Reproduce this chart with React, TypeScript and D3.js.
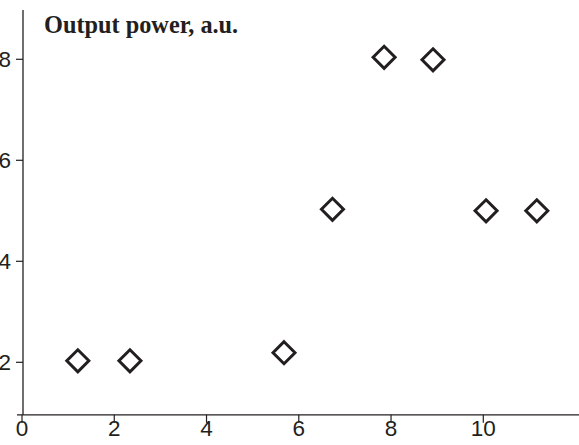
import { useEffect, useRef } from "react";
import * as d3 from "d3";

// values, in axis units
const xValues = [1.21, 2.34, 5.68, 6.73, 7.85, 8.91, 10.06, 11.16];
const yValues = [2.03, 2.03, 2.19, 5.03, 8.04, 7.99, 5.0, 5.0];
const xTicks = [0, 2, 4, 6, 8, 10];
const yTicks = [2, 4, 6, 8];
const title = "Output power, a.u.";

const width = 579;
const height = 445;
const ink = "#231f20";

export default function App() {
  const ref = useRef<SVGSVGElement>(null);

  useEffect(() => {
    const svg = d3.select(ref.current);
    svg.selectAll("*").remove();

    const x = d3.scaleLinear().domain([0, 10]).range([22, 483.3]);
    const y = d3.scaleLinear().domain([0, 8]).range([463.3, 59.3]);
    const axisY = y(0.96);
    const axisX = 23;

    // x axis
    svg
      .append("line")
      .attr("x1", 17)
      .attr("x2", width)
      .attr("y1", axisY)
      .attr("y2", axisY)
      .attr("stroke", ink)
      .attr("stroke-width", 1.3);

    const xt = svg.append("g");
    xt.selectAll("line")
      .data(xTicks)
      .join("line")
      .attr("x1", (d) => x(d))
      .attr("x2", (d) => x(d))
      .attr("y1", axisY)
      .attr("y2", axisY + 8)
      .attr("stroke", ink)
      .attr("stroke-width", 1.2);
    xt.selectAll("text")
      .data(xTicks)
      .join("text")
      .attr("x", (d) => x(d))
      .attr("y", axisY + 21.5)
      .attr("text-anchor", "middle")
      .attr("font-family", "Liberation Sans, Arial, sans-serif")
      .attr("font-size", 22.5)
      .attr("fill", ink)
      .text((d) => d);

    // y axis
    svg
      .append("line")
      .attr("x1", axisX)
      .attr("x2", axisX)
      .attr("y1", 10)
      .attr("y2", axisY)
      .attr("stroke", ink)
      .attr("stroke-width", 1.3);

    const yt = svg.append("g");
    yt.selectAll("line")
      .data(yTicks)
      .join("line")
      .attr("x1", axisX - 7)
      .attr("x2", axisX)
      .attr("y1", (d) => y(d))
      .attr("y2", (d) => y(d))
      .attr("stroke", ink)
      .attr("stroke-width", 1.2);
    yt.selectAll("text")
      .data(yTicks)
      .join("text")
      .attr("x", 11)
      .attr("y", (d) => y(d))
      .attr("dy", "0.36em")
      .attr("text-anchor", "end")
      .attr("font-family", "Liberation Sans, Arial, sans-serif")
      .attr("font-size", 22.5)
      .attr("fill", ink)
      .text((d) => d);

    // title
    svg
      .append("text")
      .attr("x", 44)
      .attr("y", 33)
      .attr("font-family", "Liberation Serif, Times New Roman, serif")
      .attr("font-weight", "bold")
      .attr("font-size", 24.3)
      .attr("fill", ink)
      .text(title);

    // diamonds
    const s = 11;
    svg
      .append("g")
      .selectAll("path")
      .data(xValues.map((v, i) => [v, yValues[i]]))
      .join("path")
      .attr("transform", (d) => `translate(${x(d[0])},${y(d[1])})`)
      .attr("d", `M0,${-s}L${s},0L0,${s}L${-s},0Z`)
      .attr("fill", "white")
      .attr("stroke", ink)
      .attr("stroke-width", 3);
  }, []);

  return (
    <svg
      ref={ref}
      width={width}
      height={height}
      style={{ position: "absolute", left: 0, top: 0, background: "white" }}
    />
  );
}
